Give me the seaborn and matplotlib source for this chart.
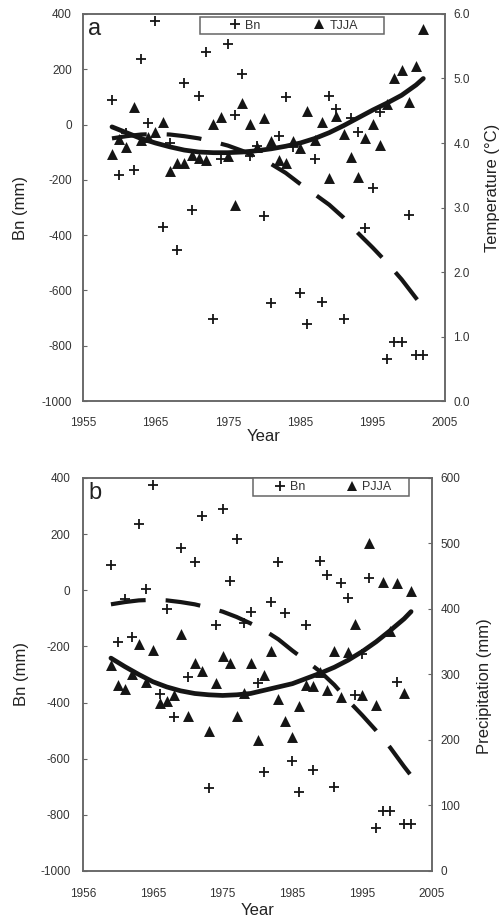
import numpy as np
import pandas as pd
import matplotlib
matplotlib.use('Agg')
import matplotlib.pyplot as plt
from matplotlib.lines import Line2D
from matplotlib.patches import Rectangle
import seaborn as sns

sns.set_style('white')
plt.rcParams['font.family'] = ['Liberation Sans', 'DejaVu Sans']
plt.rcParams['axes.unicode_minus'] = False

years = list(range(1959, 2003))
bn = [90, -184, -30, -165, 236, 6, 375, -370, -68, -453,
      150, -309, 102, 263, -705, -123, 291, 33, 182, -115,
      -76, -331, -647, -42, 101, -82, -608, -720, -124, -641,
      105, 55, -702, 25, -26, -374, -228, 45, -847, -787,
      -787, -326, -833, -833]
tjja = [3.83, 4.06, 3.94, 4.56, 4.05, 4.10, 4.17, 4.33, 3.56, 3.69,
        3.69, 3.81, 3.77, 3.74, 4.29, 4.40, 3.80, 3.04, 4.62, 4.29,
        3.94, 4.38, 4.03, 3.74, 3.69, 4.03, 3.93, 4.50, 4.05, 4.33,
        3.46, 4.42, 4.14, 3.79, 3.48, 4.07, 4.29, 3.97, 4.60, 5.00,
        5.13, 4.64, 5.20, 5.76]
pjja = [315, 284, 278, 300, 346, 289, 337, 256, 260, 269,
        362, 236, 317, 305, 213, 287, 328, 317, 237, 271,
        317, 200, 299, 336, 262, 229, 205, 252, 284, 282,
        304, 277, 336, 265, 334, 377, 269, 500, 254, 441,
        367, 439, 271, 428]

# 趋势线
fit_years = [1959, 1961, 1963, 1965, 1967, 1969, 1971, 1973, 1975, 1977, 1979, 1981,
             1983, 1985, 1987, 1989, 1991, 1993, 1995, 1997, 1999, 2001, 2002]
bn_fit = [-50, -42, -36, -34, -36, -42, -50, -62, -76, -95, -118, -143,
          -175, -215, -252, -290, -337, -393, -445, -500, -560, -628, -660]
t_fit = [4.25, 4.16, 4.07, 4.00, 3.94, 3.89, 3.86, 3.85, 3.85, 3.86, 3.88, 3.91,
         3.95, 4.00, 4.07, 4.16, 4.27, 4.39, 4.51, 4.62, 4.74, 4.90, 5.00]
p_fit = [325, 312, 300, 289, 281, 275, 271, 269, 268, 269, 271, 276,
         281, 286, 294, 302, 311, 322, 335, 350, 367, 385, 396]

xticks = [1955, 1965, 1975, 1985, 1995, 2005]
xtick_labels_a = ['1955', '1965', '1975', '1985', '1995', '2005']
xtick_labels_b = ['1956', '1965', '1975', '1985', '1995', '2005']
bn_ticks = [-1000, -800, -600, -400, -200, 0, 200, 400]

ink = '#151515'
spine_c = '#666666'
dash = (0, (8.4, 4.8))

fig = plt.figure(figsize=(5.01, 9.21), dpi=100)
ax_a = fig.add_axes([0.1657, 0.5646, 0.7226, 0.4202])
ax_b = fig.add_axes([0.1657, 0.0543, 0.6966, 0.4267])


def draw_panel(ax, right_vals, right_fit, right_lim, right_ticks, right_fmt,
               right_label, legend_name, letter, xlabels, pads, lab_pos, leg):
    ax2 = ax.twinx()
    sns.scatterplot(x=years, y=bn, marker='+', s=55, color=ink, linewidth=1.3, ax=ax, zorder=3)
    sns.lineplot(x=fit_years, y=bn_fit, color=ink, lw=3, linestyle=dash, ax=ax, zorder=2)
    sns.scatterplot(x=years, y=right_vals, marker='^', s=62, color=ink, linewidth=0, ax=ax2, zorder=3)
    sns.lineplot(x=fit_years, y=right_fit, color=ink, lw=3.4, ax=ax2, zorder=2)

    ax.set_xlim(1955, 2005)
    ax.set_ylim(-1000, 400)
    ax2.set_ylim(*right_lim)
    ax.set_xticks(xticks)
    ax.set_xticklabels(xlabels)
    ax.set_yticks(bn_ticks)
    ax2.set_yticks(right_ticks)
    ax2.set_yticklabels([right_fmt.format(v) for v in right_ticks])

    for a in (ax, ax2):
        for s in a.spines.values():
            s.set_visible(True)
            s.set_color(spine_c)
            s.set_linewidth(1.1)
    ax.tick_params(axis='x', direction='in', length=3, width=0.8, color=spine_c,
                   labelsize=8.5, labelcolor='#333333', pad=pads[0])
    ax.tick_params(axis='y', direction='in', length=3, width=0.8, color=spine_c,
                   labelsize=8.5, labelcolor='#333333', pad=pads[1])
    ax2.tick_params(axis='y', direction='in', length=3, width=0.8, color=spine_c,
                    labelsize=8.5, labelcolor='#333333', pad=pads[2])

    ax.set_xlabel('Year', fontsize=12, color='#222222')
    ax.set_ylabel('Bn (mm)', fontsize=12, color='#222222')
    ax2.set_ylabel(right_label, fontsize=12, color='#222222')
    ax.xaxis.set_label_coords(0.5, lab_pos[0])
    ax.yaxis.set_label_coords(lab_pos[1], 0.5)
    ax2.yaxis.set_label_coords(lab_pos[2], lab_pos[3])

    ax.text(0.015, 0.962, letter, transform=ax.transAxes, fontsize=17,
            ha='left', va='center', color='#222222')

    # 图例框
    bx, by, bw, bh, hx, hy, cs = leg
    ax2.add_patch(Rectangle((bx, by), bw, bh, transform=ax2.transAxes, facecolor='white',
                            edgecolor=spine_c, lw=1.1, zorder=5, clip_on=False))
    handles = [Line2D([], [], ls='none', marker='+', ms=7, mew=1.3, color=ink),
               Line2D([], [], ls='none', marker='^', ms=7, mew=0, color=ink)]
    ax2.legend(handles, ['Bn', legend_name], ncol=2, frameon=False, loc='center left',
               bbox_to_anchor=(hx, hy), borderpad=0, borderaxespad=0, handlelength=1.0,
               handletextpad=0.3, columnspacing=cs, fontsize=9,
               labelcolor='#333333').set_zorder(6)
    return ax2


draw_panel(ax_a, tjja, t_fit, (0, 6), [0, 1, 2, 3, 4, 5, 6], '{:.1f}',
           'Temperature (°C)', 'TJJA', 'a', xtick_labels_a,
           pads=(11.5, 8, 6), lab_pos=(-0.073, -0.152, 1.11, 0.55),
           leg=(0.323, 0.948, 0.508, 0.044, 0.403, 0.970, 4.2))
draw_panel(ax_b, pjja, p_fit, (0, 600), [0, 100, 200, 300, 400, 500, 600], '{:.0f}',
           'Precipitation (mm)', 'PJJA', 'b', xtick_labels_b,
           pads=(12, 9, 6), lab_pos=(-0.081, -0.155, 1.129, 0.47),
           leg=(0.487, 0.954, 0.447, 0.046, 0.547, 0.977, 3.25))

fig.savefig('out.png', dpi=100)
